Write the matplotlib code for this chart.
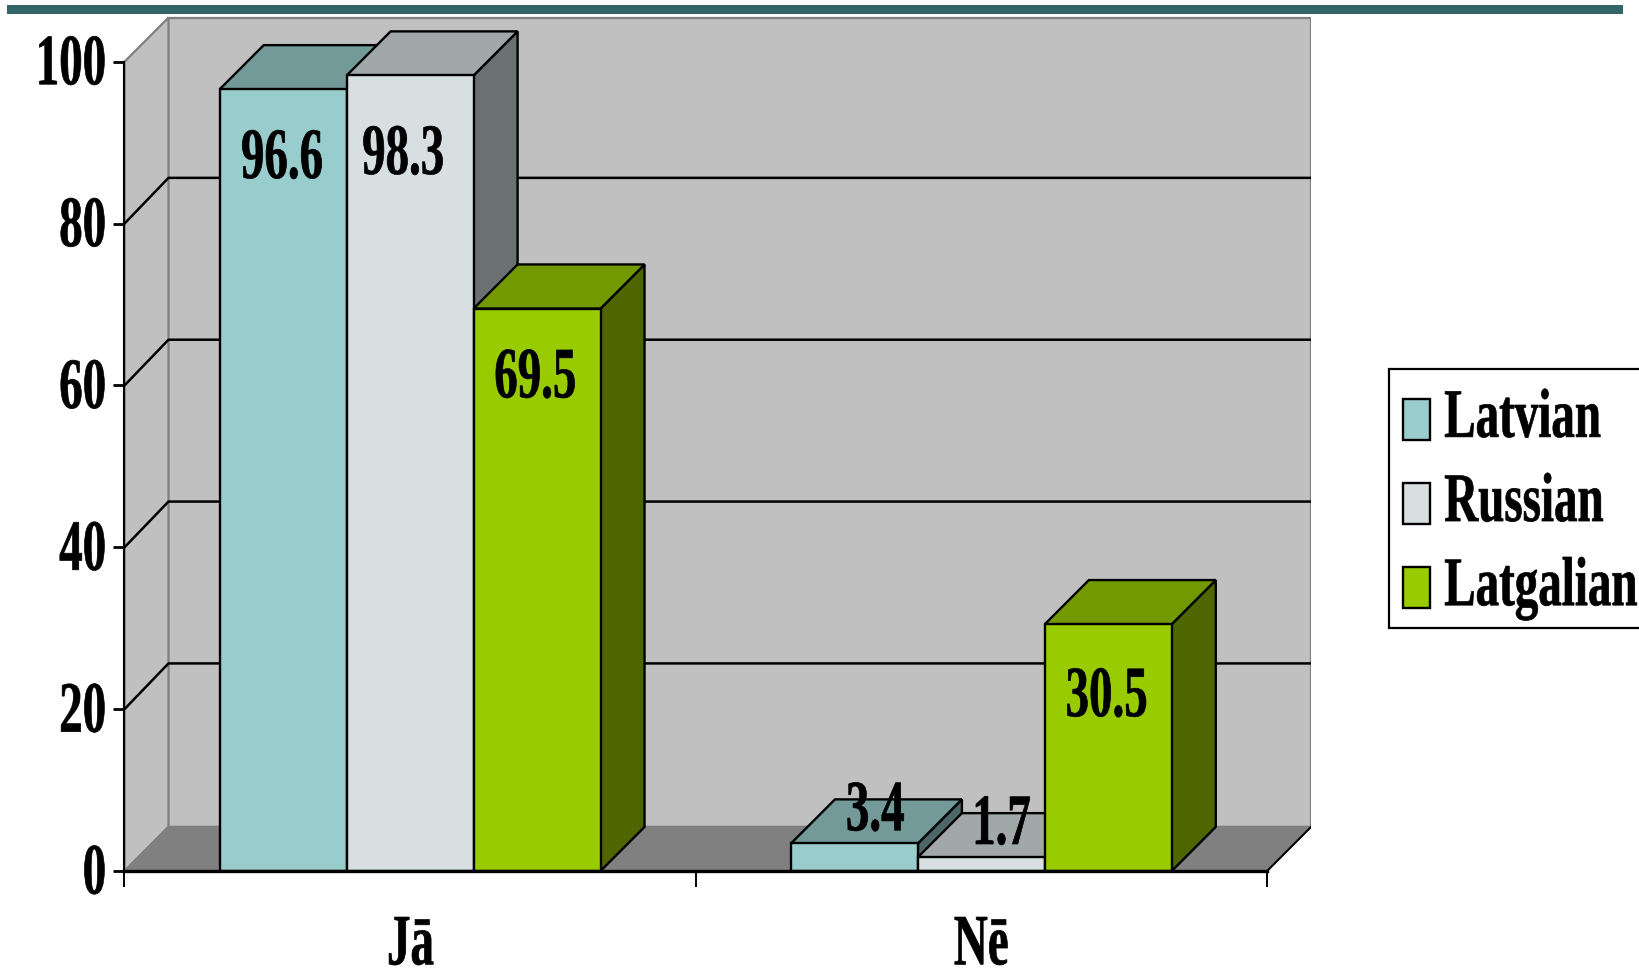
import matplotlib
matplotlib.use("Agg")
import matplotlib.pyplot as plt
from matplotlib.patches import Patch, Polygon, Rectangle
from matplotlib.patheffects import AbstractPathEffect
from matplotlib.transforms import Affine2D

categories = ["Jā", "Nē"]
series_names = ["Latvian", "Russian", "Latgalian"]
latvian = [96.6, 3.4]
russian = [98.3, 1.7]
latgalian = [69.5, 30.5]
y_ticks = [0, 20, 40, 60, 80, 100]

front_colors = ["#99CCCC", "#D7DFE1", "#99CC00"]
top_colors = ["#739999", "#A1A8A8", "#739900"]
side_colors = ["#4D6666", "#6B7070", "#4D6600"]

# label centre relative to the top of each bar, in axis units
label_dx = [[-0.002, 0.036], [-0.012, 0.034], [-0.003, -0.003]]
label_dy = [[-8.8, 3.8], [-10.0, 3.8], [-8.8, -9.2]]

# oblique depth of the 3D box in data units
depth_x = 0.077
depth_y = 5.45
grid_rise = 5.65
y_top = 105.65
bar_w = 1 / 4.5


class Squeeze(AbstractPathEffect):
    # narrows the glyphs horizontally, keeping one edge of the string in place
    def __init__(self, sx, anchor="center", dy=0):
        super().__init__()
        self.sx = sx
        self.anchor = anchor
        self.dy = dy

    def draw_path(self, renderer, gc, tpath, affine, rgbFace=None):
        ext = tpath.get_extents()
        px = {"left": ext.x0, "right": ext.x1, "center": (ext.x0 + ext.x1) / 2}[self.anchor]
        narrow = Affine2D().translate(-px, 0).scale(self.sx, 1).translate(px, 0)
        shift = Affine2D().translate(0, self.dy)
        gc.set_linewidth(0.5)
        renderer.draw_path(gc, tpath, narrow + affine + shift, rgbFace)


plt.rcParams["font.family"] = ["Liberation Serif", "DejaVu Serif"]
plt.rcParams["font.weight"] = "bold"

fig = plt.figure(figsize=(16.39, 9.69), dpi=100)

# teal band along the top
fig.add_artist(Rectangle((7 / 1639, 1 - 14 / 969), 1616 / 1639, 9 / 969,
                         transform=fig.transFigure, facecolor="#336666", edgecolor="none"))

ax = fig.add_axes([124.5 / 1639, 1 - 871 / 969, 1186.5 / 1639, 855 / 969])
ax.set_xlim(0, 2 + depth_x)
ax.set_ylim(0, y_top)
ax.patch.set_visible(False)

# walls and floor
wall_edge = "#808080"
ax.add_patch(Polygon([(depth_x, depth_y), (2 + depth_x, depth_y), (2 + depth_x, 100 + depth_y), (depth_x, 100 + depth_y)],
                     facecolor="#C0C0C0", edgecolor=wall_edge, lw=1.6, zorder=1))
ax.add_patch(Polygon([(0, 0), (depth_x, depth_y), (depth_x, 100 + depth_y), (0, 100)],
                     facecolor="#C0C0C0", edgecolor=wall_edge, lw=1.6, zorder=1))
ax.add_patch(Polygon([(0, 0), (2, 0), (2 + depth_x, depth_y), (depth_x, depth_y)],
                     facecolor="#808080", edgecolor=wall_edge, lw=1.6, zorder=1.1))
ax.plot([2, 2 + depth_x], [0, depth_y], color="black", lw=1.4, zorder=1.2)

# gridlines on the back wall and the left wall
for v in y_ticks[1:-1]:
    ax.plot([0, depth_x, 2 + depth_x], [v, v + grid_rise, v + grid_rise], color="black", lw=1.8, zorder=2)

# bars, left to right so that each one covers the previous one
z = 3
for g in range(len(categories)):
    for s, values in enumerate([latvian, russian, latgalian]):
        v = values[g]
        left = g + 0.5 + (s - 1.5) * bar_w
        right = left + bar_w
        style = dict(edgecolor="black", lw=1.7, joinstyle="miter", clip_on=False)
        ax.add_patch(Polygon([(right, 0), (right + depth_x, depth_y), (right + depth_x, v + depth_y), (right, v)],
                             facecolor=side_colors[s], zorder=z, **style))
        ax.add_patch(Polygon([(left, v), (right, v), (right + depth_x, v + depth_y), (left + depth_x, v + depth_y)],
                             facecolor=top_colors[s], zorder=z, **style))
        ax.bar(left, v, bar_w, align="edge", color=front_colors[s], zorder=z + 0.5, **style)
        z += 1

# value labels
for s, values in enumerate([latvian, russian, latgalian]):
    for g, v in enumerate(values):
        xc = g + 0.5 + (s - 1) * bar_w + label_dx[s][g]
        ax.text(xc, v + label_dy[s][g], str(v), ha="center", va="center", fontsize=52, color="black",
                zorder=60, path_effects=[Squeeze(0.65)])

# axes
for name in ["top", "right"]:
    ax.spines[name].set_visible(False)
ax.spines["left"].set_bounds(0, 100)
ax.spines["bottom"].set_bounds(0, 2)
ax.spines["left"].set_linewidth(1.5)
ax.spines["bottom"].set_linewidth(2.4)
ax.spines["left"].set_zorder(50)
ax.spines["bottom"].set_zorder(50)

ax.set_yticks(y_ticks)
ax.tick_params(axis="y", length=8, width=2, pad=4.5, labelsize=52)
for label in ax.get_yticklabels():
    label.set_path_effects([Squeeze(0.65, "right", dy=-5)])
    label.set_verticalalignment("center")

ax.set_xticks([0, 1, 2], labels=[])
ax.set_xticks([0.5, 1.5], labels=categories, minor=True)
ax.tick_params(axis="x", which="major", length=11.5, width=1.4)
ax.tick_params(axis="x", which="minor", length=0, pad=24, labelsize=52)
for label in ax.get_xticklabels(minor=True):
    label.set_path_effects([Squeeze(0.65, dy=-10)])

# legend frame and entries, running off the right edge
fig.add_artist(Rectangle((1389 / 1639, 1 - 628 / 969), 320 / 1639, 259 / 969, transform=fig.transFigure,
                         facecolor="white", edgecolor="black", lw=1.6))
handles = [Patch(facecolor=c, edgecolor="black", lw=1.7) for c in front_colors]
leg = fig.legend(handles, series_names, loc="upper left", bbox_to_anchor=(1389 / 1639, 1 - 381 / 969),
                 fontsize=50, frameon=False, handlelength=0.39, handleheight=0.52, handletextpad=0.2,
                 labelspacing=0.29, borderpad=0.2, borderaxespad=0)
for t in leg.get_texts():
    t.set_path_effects([Squeeze(0.677, "left", dy=7)])

fig.savefig("out.png", dpi=100)
